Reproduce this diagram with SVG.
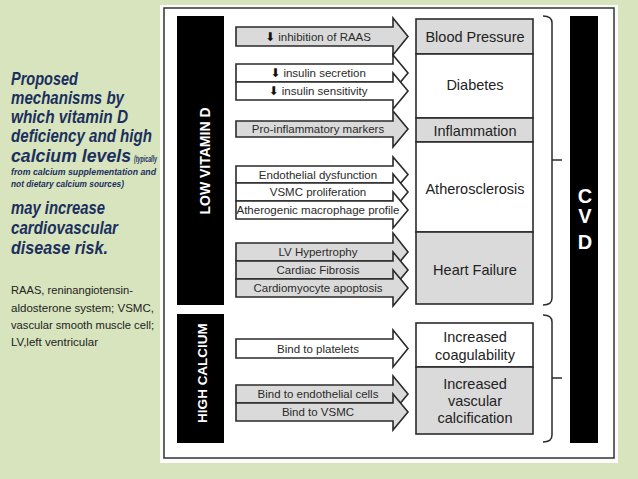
<svg xmlns="http://www.w3.org/2000/svg" width="638" height="479" viewBox="0 0 638 479">
<style>
.bg{fill:#d7e4bd}
.title{font-family:"Liberation Sans",Arial,sans-serif;font-weight:bold;font-style:italic;fill:#1b2f5e}
.note{font-family:"Liberation Sans",Arial,sans-serif;font-size:11.5px;fill:#222}
.bar{fill:#000}
.bartxt{font-family:"Liberation Sans",Arial,sans-serif;font-weight:bold;fill:#fff}
.box{stroke:#2b2b2b;stroke-width:1.6}
.g{fill:#dadada}
.w{fill:#fff}
.boxtxt{font-family:"Liberation Sans",Arial,sans-serif;font-size:14.5px;fill:#222;text-anchor:middle}
.arr{stroke:#2a2a2a;stroke-width:1.6;stroke-linejoin:miter}
.lbl{font-family:"Liberation Sans",Arial,sans-serif;font-size:11.5px;fill:#2a2a2a;text-anchor:middle}
.ic{font-family:"DejaVu Sans",sans-serif;font-size:12px;fill:#111}
.brace{fill:none;stroke:#2b2b2b;stroke-width:1.5}
</style>
<rect class="bg" x="0" y="0" width="638" height="479"/>

<g id="caption">
<text class="title" font-size="18" x="11" y="85" textLength="67" lengthAdjust="spacingAndGlyphs">Proposed</text>
<text class="title" font-size="18" x="11" y="104" textLength="113" lengthAdjust="spacingAndGlyphs">mechanisms by</text>
<text class="title" font-size="18" x="11" y="123" textLength="117" lengthAdjust="spacingAndGlyphs">which vitamin D</text>
<text class="title" font-size="18" x="11" y="142" textLength="141" lengthAdjust="spacingAndGlyphs">deficiency and high</text>
<text class="title" font-size="18" x="11" y="162" textLength="120" lengthAdjust="spacingAndGlyphs">calcium levels</text>
<text class="title" font-size="9" x="134" y="162" textLength="23" lengthAdjust="spacingAndGlyphs">(typically</text>
<text class="title" font-size="9" x="11" y="175" textLength="145" lengthAdjust="spacingAndGlyphs">from calcium supplementation and</text>
<text class="title" font-size="9" x="11" y="187" textLength="113" lengthAdjust="spacingAndGlyphs">not dietary calcium sources)</text>
<text class="title" font-size="18" x="11" y="214" textLength="94" lengthAdjust="spacingAndGlyphs">may increase</text>
<text class="title" font-size="18" x="11" y="234" textLength="107" lengthAdjust="spacingAndGlyphs">cardiovascular</text>
<text class="title" font-size="18" x="11" y="254" textLength="97" lengthAdjust="spacingAndGlyphs">disease risk.</text>
<text class="note" x="11" y="294" textLength="122" lengthAdjust="spacingAndGlyphs">RAAS, reninangiotensin-</text>
<text class="note" x="11" y="312" textLength="143" lengthAdjust="spacingAndGlyphs">aldosterone system; VSMC,</text>
<text class="note" x="11" y="329" textLength="143" lengthAdjust="spacingAndGlyphs">vascular smooth muscle cell;</text>
<text class="note" x="11" y="346" textLength="87" lengthAdjust="spacingAndGlyphs">LV,left ventricular</text>
</g>

<g id="panel">
<rect x="160" y="5" width="458" height="458" fill="#fbfbfb"/>
<rect x="164" y="8" width="450" height="450" fill="#fff" stroke="#333" stroke-width="1.5"/>
</g>

<g id="low-vitamin-d">
<rect class="bar" x="177" y="16" width="47" height="289"/>
<text class="bartxt" font-size="14" text-anchor="middle" transform="translate(210,161) rotate(-90)">LOW VITAMIN D</text>
</g>
<g id="high-calcium">
<rect class="bar" x="177" y="314" width="47" height="129"/>
<text class="bartxt" font-size="13.5" text-anchor="middle" transform="translate(207,373) rotate(-90)">HIGH CALCIUM</text>
</g>
<g id="cvd">
<rect class="bar" x="570" y="16" width="28" height="427"/>
<text class="bartxt" font-size="20" text-anchor="middle" x="585" y="203">C</text>
<text class="bartxt" font-size="20" text-anchor="middle" x="585" y="223">V</text>
<text class="bartxt" font-size="20" text-anchor="middle" x="585" y="249">D</text>
</g>

<g id="blood-pressure"><rect class="box g" x="416" y="19" width="117" height="35"/><text class="boxtxt" x="475" y="42">Blood Pressure</text></g>
<g id="diabetes"><rect class="box w" x="416" y="54" width="117" height="64"/><text class="boxtxt" x="475" y="90">Diabetes</text></g>
<g id="inflammation"><rect class="box g" x="416" y="118" width="117" height="24"/><text class="boxtxt" x="475" y="136">Inflammation</text></g>
<g id="atherosclerosis"><rect class="box w" x="416" y="142" width="117" height="90"/><text class="boxtxt" x="475" y="194">Atherosclerosis</text></g>
<g id="heart-failure"><rect class="box g" x="416" y="232" width="117" height="72"/><text class="boxtxt" x="475" y="275">Heart Failure</text></g>
<g id="coagulability"><rect class="box w" x="416" y="323" width="117" height="44"/><text class="boxtxt" x="475" y="342">Increased</text><text class="boxtxt" x="475" y="360">coagulability</text></g>
<g id="calcification"><rect class="box g" x="416" y="367" width="117" height="67"/><text class="boxtxt" x="475" y="389">Increased</text><text class="boxtxt" x="475" y="406">vascular</text><text class="boxtxt" x="475" y="423">calcification</text></g>

<g id="braces">
<path class="brace" d="M543,16 Q552,16 552,23 V298 Q552,305 543,305 M552,160 H562"/>
<path class="brace" d="M543,315 Q552,315 552,322 V435 Q552,442 543,442 M552,378 H562"/>
</g>

<g id="connectors">
<polygon class="arr g" points="236,27 393,27 393,18 408,36.5 393,55 393,46 236,46"/>
<polygon class="arr w" points="236,64 393,64 393,55 408,73 393,91 393,82 236,82"/>
<polygon class="arr w" points="236,82 393,82 393,73 408,91 393,109 393,100 236,100"/>
<polygon class="arr g" points="236,121 393,121 393,111 408,129 393,147 393,137 236,137"/>
<polygon class="arr w" points="236,166 393,166 393,157 408,174.5 393,192 393,183 236,183"/>
<polygon class="arr w" points="236,183 393,183 393,174 408,192 393,210 393,201 236,201"/>
<polygon class="arr w" points="236,201 393,201 393,192 408,210 393,228 393,219 236,219"/>
<polygon class="arr g" points="236,243 393,243 393,233 408,252 393,270 393,261 236,261"/>
<polygon class="arr g" points="236,261 393,261 393,252 408,270 393,288 393,279 236,279"/>
<polygon class="arr g" points="236,279 393,279 393,270 408,288 393,306 393,297 236,297"/>
<polygon class="arr w" points="236,339 393,339 393,330 408,348.5 393,367 393,358 236,358"/>
<polygon class="arr g" points="236,385 393,385 393,376 408,394 393,412 393,403 236,403"/>
<polygon class="arr g" points="236,403 393,403 393,394 408,412 393,430 393,421 236,421"/>
<text class="lbl" x="318" y="40.5"><tspan class="ic">⬇</tspan> inhibition of RAAS</text>
<text class="lbl" x="318" y="77"><tspan class="ic">⬇</tspan> insulin secretion</text>
<text class="lbl" x="318" y="95"><tspan class="ic">⬇</tspan> insulin sensitivity</text>
<text class="lbl" x="318" y="133">Pro-inflammatory markers</text>
<text class="lbl" x="318" y="178.5">Endothelial dysfunction</text>
<text class="lbl" x="318" y="196">VSMC proliferation</text>
<text class="lbl" x="318" y="213.5" font-size="10">Atherogenic macrophage profile</text>
<text class="lbl" x="318" y="256">LV Hypertrophy</text>
<text class="lbl" x="318" y="274">Cardiac Fibrosis</text>
<text class="lbl" x="318" y="292">Cardiomyocyte apoptosis</text>
<text class="lbl" x="318" y="352.5">Bind to platelets</text>
<text class="lbl" x="318" y="398">Bind to endothelial cells</text>
<text class="lbl" x="318" y="416">Bind to VSMC</text>
</g>
</svg>
